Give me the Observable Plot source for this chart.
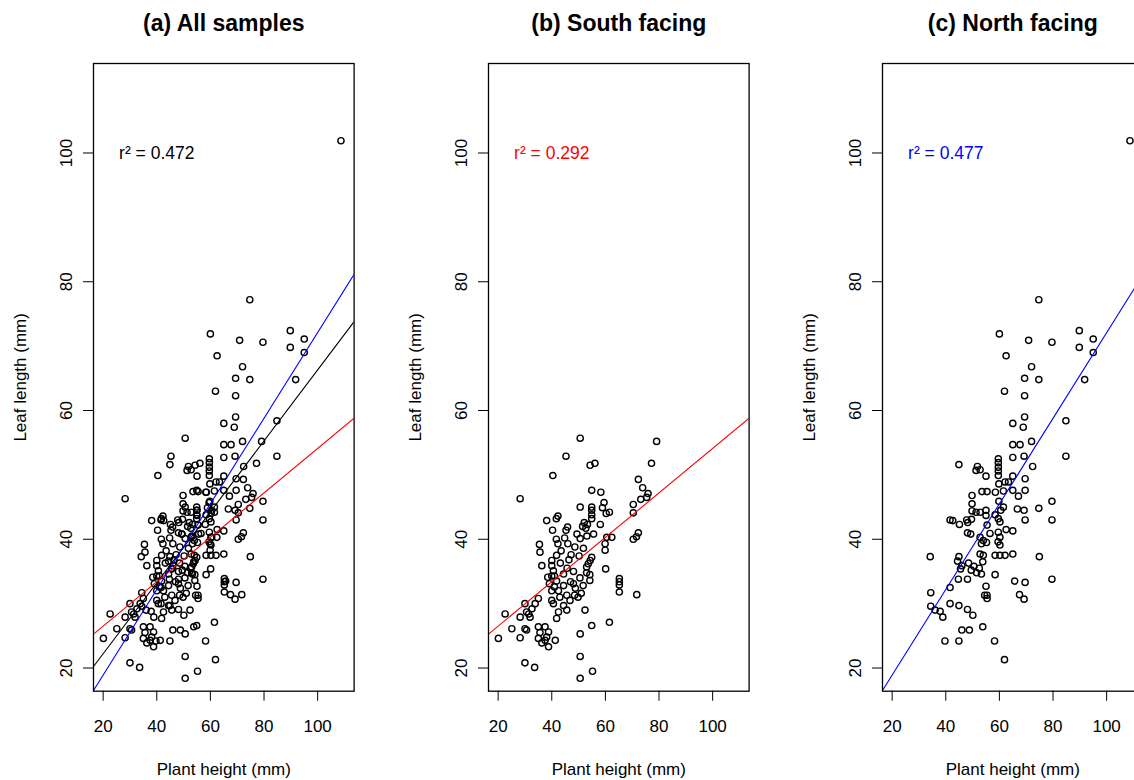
<!DOCTYPE html>
<html><head><meta charset="utf-8">
<script src="https://cdn.jsdelivr.net/npm/d3@7"></script>
<script src="https://cdn.jsdelivr.net/npm/@observablehq/plot@0.6"></script>
<style>
html,body{margin:0;padding:0;background:#fff;overflow:hidden;width:1134px;height:780px;}
#wrap{position:relative;width:1134px;height:780px;overflow:hidden;background:#fff;}
#wrap > svg{position:absolute;top:0;}
</style></head><body><div id="wrap"></div>
<script>
// ---- data ----
const panelTitles = ["(a) All samples", "(b) South facing", "(c) North facing"];
const xTicks = [20, 40, 60, 80, 100];
const yTicks = [20, 40, 60, 80, 100];
const xLabel = "Plant height (mm)";
const yLabel = "Leaf length (mm)";

// regression fits: all, south, north
const fitNames = ["All", "South", "North"];
const fitIntercepts = [11.2, 19.6, 5.6];
const fitSlopes = [0.551, 0.345, 0.665];
const fitColors = ["black", "red", "blue"];
const r2Labels = ["r\u00b2 = 0.472", "r\u00b2 = 0.292", "r\u00b2 = 0.477"];
const r2Pos = [40, 100];

// South-facing samples [plant height, leaf length]
const southPoints = [
[50.6,55.7],[79.1,55.2],[45.3,52.9],[54.3,51.5],[56.1,51.8],[77.2,51.8],[40.4,49.9],[72.3,49.3],
[73.9,48],[75.4,46.5],[73.2,46.2],[75.9,47.1],[28.2,46.3],[54.9,47.6],[58.3,47.3],
[50.6,45],[54.9,45],[59.5,45.7],[58.9,44.9],[61.5,44.2],[60.3,44],
[70.4,45.4],[70.4,44.1],
[54.9,44.5],[54.9,43.8],[54.9,43.2],
[42.3,43.6],[41.7,43.2],[38.1,42.9],
[52.1,42.6],[53.3,42.3],[51.5,42],[52.7,41.7],[58.1,42.3],
[45.9,41.9],[45.3,41.4],[40.3,41.4],
[72.3,41.0],[70.4,40.0],[71.6,40.4],
[60.5,40.3],[62.4,40.3],
[49.4,40.8],[50.6,40.1],[53.1,40.5],[55.6,40.8],
[41.7,40],[44.8,40.2],[42.3,39.3],[46,39.3],
[35.4,39.2],[35.6,38],
[59.9,39.3],[59.9,38.3],
[36.3,35.9],[40,36.7],[40,35.9],[40.6,35.1],[40,34.3],
[41.8,37.5],[45.7,35.5],[48.1,35],[44.4,34.6],[53,35.7],
[54.9,37.2],[54.3,36.7],[53.6,36.2],[60.1,35.4],
[38.5,34.1],[41,34.3],[41.8,33.5],[39.1,33.1],[41,32.6],
[44.4,32.8],[47,33.4],[48.1,33.1],[48.8,32.4],[50.5,34],[51.7,32.8],[54.2,34.5],[54.2,33.6],[53,34.8],
[65.2,33.9],[65.2,33.4],[65.2,32.9],[65.2,31.8],[71.7,31.4],
[30,30],[30.6,28.7],[28.2,27.9],[31.9,27.9],
[35,30.8],[33.8,30.0],[32.6,29.2],[31.4,28.4],
[40,32],[40,30.5],[40.6,30],
[42.5,32],[43,31],[44.4,29.7],[42.5,28.7],[45.6,29],[41.8,27.7],
[45.6,31.3],[46.8,30.5],[48.5,31.3],[49.8,31],[51,31.6],
[22.6,28.4],[25.1,26.1],[20.1,24.6],[28.2,24.7],[30,26.1],[30.6,25.9],
[35,26.4],[37.5,26.4],[35.6,25.5],[38.8,25.6],[38.1,24.8],
[35,24.6],[36.3,23.9],[38.8,23.3],[37.5,24.3],[41.3,24.3],
[52.4,29],[50.6,25.3],[54.9,26.6],[61.5,27.1],
[30,20.8],[33.6,20.1],[50.6,21.8],[50.6,18.4],[55.2,19.5],
[43.5,38.2],[47.2,37.6],[48.6,38.8],[46.4,36.8],[50.2,37.4],[51.8,38.6],[43.2,36.3]
];

// North-facing samples [plant height, leaf length]
const northPoints = [
[108.7,101.9],[74.7,77.2],[60,71.9],[70.9,70.9],[79.6,70.6],[89.8,72.4],[95,71.1],[89.8,69.8],[95,69],[62.5,68.5],[72,66.8],[69.4,65],[74.7,64.8],[91.8,64.8],[61.9,63],[69.4,62.3],[69.4,59],[65,58],[68.9,57.4],[84.8,58.4],[65,54.7],[67.7,54.7],[72,55.2],[84.8,52.9],
[44.9,51.6],[51.8,51.3],[51.3,50.7],[52.8,50.8],[55,49.8],
[59.6,52.5],[59.6,51.9],[59.6,51.2],[59.6,50.6],[59.6,49.9],
[65,52.7],[69.2,52.9],[72.4,51.3],[65,49.8],[62.1,48.9],[63.4,48.9],[69.6,49.4],[59.8,48.6],
[53.5,47.4],[55.4,47.4],[58.5,47.3],[61.5,47.5],[65,47.6],[67.1,46.7],[69.6,47.6],
[49.8,46.8],[49.8,45.5],[59.8,45.9],[61.5,45],[66.7,44.7],[69.2,44.5],[74.7,44.8],[79.6,45.9],[69.6,43],[79.6,43],
[49.8,44.4],[51.3,44.2],[52.8,44.2],[55,44.5],
[47.8,43],[49.6,43.1],[48.2,42.6],
[41.6,43],[42.6,42.9],[45.1,42.3],
[55,43.7],[55.4,42.2],
[58.4,43.8],[59.6,43.2],[60.2,42.7],[60.5,44.5],
[62.5,41.5],[65,41.3],
[48.1,41],[49.3,40.8],
[52.8,40.3],[54,39.8],[53.3,39.3],[55.2,39.5],[56.5,40.9],
[59.6,41.1],[60.2,40.3],[59.5,39.6],[60.2,39.1],
[34.2,37.3],[44.9,37.3],[52.8,37.7],[54,37.5],[58.4,37.5],[60.2,37.5],[62.1,37.5],[65,37.7],[74.9,37.3],
[44.4,36.6],[46,35.9],[45.5,35.4],
[48.5,36.3],[50.5,35.8],[52.5,35.5],[53.8,36.5],[51.5,34.8],[53.3,34.6],[49.5,35.2],
[48.1,33.8],[44.7,33.8],[58.4,34.5],[65.7,33.5],[69.6,33.3],[79.6,33.8],[41.6,32.5],[34.4,31.7],
[55,32.7],[54.5,31.3],[55.4,31.3],[55.4,30.8],[67.5,31.4],[69.2,30.7],
[34.4,29.6],[36,29],[37.9,28.8],[38.9,27.9],
[41.6,30],[44.9,29.7],[48.1,29.1],[50.1,28.2],
[46,25.9],[48.8,25.9],[53.8,26.4],[39.7,24.2],[44.9,24.2],[58.2,24.2],[61.9,21.3]
];

// ---- chart ----
const FONT = "'Liberation Sans', Arial, Helvetica, sans-serif";
const xDomain = [16.4, 113.6];
const yDomain = [16.4, 113.9];
const panelW = 395, panelH = 780;
const panelLeft = [0, 395, 789];

const fits = fitNames.map((name, i) => ({name, a: fitIntercepts[i], b: fitSlopes[i], color: fitColors[i]}));
const fitLine = f => xDomain.map(x => ({x, y: f.a + f.b * x, name: f.name}));

const panels = [
  {pts: southPoints.concat(northPoints), fits: [0, 1, 2], r2: 0, r2color: "black"},
  {pts: southPoints, fits: [1], r2: 1, r2color: "red"},
  {pts: northPoints, fits: [2], r2: 2, r2color: "blue"}
];

const wrap = document.getElementById("wrap");
panels.forEach((p, k) => {
  const lineMarks = p.fits.map(i => Plot.line(fitLine(fits[i]), {x: "x", y: "y", stroke: fits[i].color, strokeWidth: 1.1, clip: true}));
  const chart = Plot.plot({
    width: panelW, height: panelH,
    marginLeft: 93, marginRight: panelW - 93 - 260.6, marginTop: 63, marginBottom: 89.3,
    style: {background: "white", color: "black", fontFamily: FONT, fontSize: "17px", overflow: "visible"},
    x: {domain: xDomain},
    y: {domain: yDomain},
    marks: [
      Plot.axisX({ticks: xTicks, tickSize: 10, tickPadding: 19, fontSize: 17, label: xLabel, labelAnchor: "center", labelOffset: 84, labelArrow: "none"}),
      Plot.axisY({ticks: yTicks, tickSize: 10, tickPadding: 12, tickRotate: -90, fontSize: 17, label: yLabel, labelAnchor: "center", labelOffset: 80, labelArrow: "none"}),
      Plot.dot(p.pts, {x: d => d[0], y: d => d[1], r: 3.1, stroke: "black", strokeWidth: 1.4, fill: "none"}),
      ...lineMarks,
      Plot.text([r2Labels[p.r2]], {x: r2Pos[0], y: r2Pos[1], text: d => d, fill: p.r2color, fontSize: 17.5, textAnchor: "middle"}),
      Plot.text([panelTitles[k]], {frameAnchor: "top", dy: -49, text: d => d, fontSize: 23, fontWeight: "bold", fill: "black"}),
      Plot.frame({stroke: "black", strokeWidth: 1.3})
    ]
  });
  chart.style.left = panelLeft[k] + "px";
  wrap.appendChild(chart);
});
</script></body></html>
